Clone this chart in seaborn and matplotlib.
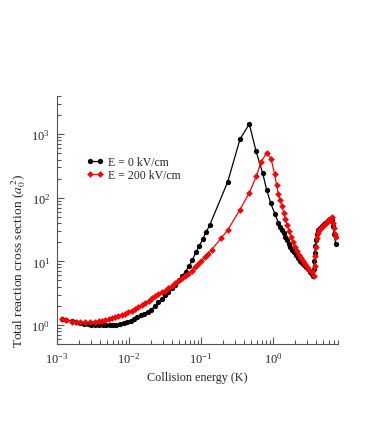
import matplotlib
matplotlib.use("Agg")
import matplotlib.pyplot as plt
import matplotlib.ticker as mticker
import seaborn as sns

# E = 0 kV/cm (black circles)
black_x = [1.16e-3, 1.35e-3, 1.6e-3, 1.85e-3, 2.1e-3, 2.4e-3, 2.7e-3, 3.0e-3, 3.4e-3,
           3.8e-3, 4.3e-3, 4.8e-3, 5.4e-3, 6.0e-3, 6.7e-3, 7.5e-3, 8.4e-3, 9.4e-3,
           1.05e-2, 1.17e-2, 1.31e-2, 1.46e-2, 1.63e-2, 1.82e-2, 2.03e-2, 2.27e-2,
           2.53e-2, 2.83e-2, 3.16e-2, 3.53e-2, 3.94e-2, 4.4e-2, 4.9e-2, 5.5e-2,
           6.1e-2, 6.8e-2, 7.6e-2, 8.5e-2, 9.5e-2, 0.106, 0.118, 0.132,
           0.235, 0.348, 0.469, 0.581, 0.72, 0.818, 0.929, 1.07, 1.19,
           1.26, 1.33, 1.40, 1.48, 1.56, 1.65, 1.74, 1.84, 1.95, 2.07, 2.20,
           2.35, 2.50, 2.67, 2.85, 3.05, 3.25, 3.45, 3.62,
           3.68, 3.74, 3.80, 3.87, 3.95, 4.05, 4.2, 4.45, 4.75, 5.05, 5.35,
           5.65, 5.95, 6.25, 6.55, 6.8, 7.1, 7.4]
black_y = [1.24, 1.20, 1.15, 1.10, 1.07, 1.04, 1.02, 1.01, 1.00,
           0.99, 0.99, 0.99, 0.99, 1.00, 1.01, 1.03, 1.06, 1.10,
           1.16, 1.24, 1.33, 1.42, 1.50, 1.60, 1.72, 1.95,
           2.25, 2.55, 2.90, 3.30, 3.75, 4.3, 5.0, 5.9,
           6.9, 8.3, 10.5, 14.0, 17.5, 22.5, 29.0, 37.0,
           178, 834, 1450, 545, 243, 133, 82, 55, 40,
           35, 31, 27.5, 24.5, 21.5, 19.0, 17.0, 15.2, 13.8, 12.5, 11.3,
           10.3, 9.5, 8.8, 8.1, 7.5, 6.9, 6.3, 5.9,
           7.5, 10.0, 13.5, 17.5, 22.0, 27.0, 31.0, 34.0, 36.5, 38.0, 39.5,
           42.0, 45.0, 47.0, 44.0, 36.0, 27.0, 19.0]

# E = 200 kV/cm (red diamonds)
red_x = [1.18e-3, 1.35e-3, 1.6e-3, 1.85e-3, 2.1e-3, 2.45e-3, 2.9e-3, 3.4e-3, 3.8e-3,
         4.2e-3, 4.7e-3, 5.2e-3, 5.8e-3, 6.4e-3, 7.1e-3, 7.9e-3, 8.8e-3, 9.8e-3,
         1.09e-2, 1.2e-2, 1.35e-2, 1.5e-2, 1.68e-2, 1.87e-2, 2.06e-2, 2.3e-2,
         2.55e-2, 2.84e-2, 3.16e-2, 3.5e-2, 3.9e-2, 4.35e-2, 4.8e-2, 5.4e-2,
         6.0e-2, 6.7e-2, 7.4e-2, 8.2e-2, 9.1e-2, 0.101, 0.113, 0.126, 0.14,
         0.19, 0.235, 0.348, 0.469, 0.59, 0.681, 0.818, 0.94, 1.05,
         1.12, 1.19, 1.26, 1.33, 1.41, 1.49, 1.58, 1.68, 1.78, 1.89, 2.01,
         2.14, 2.28, 2.43, 2.60, 2.78, 2.98, 3.2, 3.45, 3.72,
         3.8, 3.88, 3.97, 4.07, 4.2, 4.4, 4.7, 5.0, 5.3, 5.6, 5.9, 6.2, 6.5,
         6.8, 7.0, 7.2, 7.4]
red_y = [1.24, 1.18, 1.13, 1.11, 1.10, 1.10, 1.10, 1.12, 1.14,
         1.17, 1.20, 1.24, 1.28, 1.32, 1.38, 1.44, 1.51, 1.59,
         1.68, 1.78, 1.90, 2.02, 2.20, 2.40, 2.65, 2.88,
         3.07, 3.25, 3.45, 3.75, 4.14, 4.55, 4.97, 5.4,
         5.8, 6.4, 7.1, 8.0, 9.1, 10.2, 11.5, 13.2, 15.2,
         23.0, 31.0, 65.0, 120, 221, 362, 514, 410, 240,
         160, 115, 92, 74, 58, 46, 37, 30, 24.5, 20.0, 16.8,
         14.3, 12.5, 11.2, 10.0, 9.0, 8.2, 7.4, 6.7, 5.95,
         8.5, 12.0, 17.0, 23.0, 28.0, 31.5, 34.0, 36.0, 38.5, 41.0, 44.0, 47.0, 49.0,
         40.0, 33.0, 27.0, 24.0]

labels = ["E = 0 kV/cm", "E = 200 kV/cm"]

sns.set_style("ticks")
plt.rcParams["font.family"] = ["Liberation Serif", "DejaVu Serif"]
plt.rcParams["mathtext.fontset"] = "stix"

fig = plt.figure(figsize=(3.89, 4.27), dpi=100)
ax = fig.add_axes([57 / 389, 1 - 345 / 427, (338 - 57) / 389, (345 - 97) / 427])

sns.lineplot(x=black_x, y=black_y, ax=ax, color="black", marker="o",
             markersize=3.8, markeredgewidth=0, linewidth=0.9,
             estimator=None, sort=False, label=labels[0])
sns.lineplot(x=red_x, y=red_y, ax=ax, color="red", marker="D",
             markersize=3.4, markeredgewidth=0, linewidth=0.9,
             estimator=None, sort=False, label=labels[1])

ax.set_xscale("log")
ax.set_yscale("log")
ax.set_xlim(1e-3, 8)
ax.set_ylim(0.5, 4000)

ax.xaxis.set_major_locator(mticker.LogLocator(base=10, numticks=10))
ax.xaxis.set_minor_locator(mticker.LogLocator(base=10, subs=range(2, 10), numticks=20))
ax.yaxis.set_major_locator(mticker.LogLocator(base=10, numticks=10))
ax.yaxis.set_minor_locator(mticker.LogLocator(base=10, subs=range(2, 10), numticks=20))
ax.xaxis.set_minor_formatter(mticker.NullFormatter())
ax.yaxis.set_minor_formatter(mticker.NullFormatter())

sns.despine(ax=ax)
for side in ["left", "bottom"]:
    ax.spines[side].set_linewidth(0.8)
    ax.spines[side].set_color("#555555")
ax.tick_params(which="major", direction="in", length=5, width=0.8,
               color="#555555", labelsize=9, pad=5)
ax.tick_params(which="minor", direction="in", length=3, width=0.8,
               color="#555555")

ax.set_xlabel("Collision energy (K)", fontsize=8.7, labelpad=4)
ax.set_ylabel(r"Total reaction cross section ($a_0^{\,2}$)", fontsize=9.6)
ax.yaxis.set_label_coords(-0.103, 0.34)

ax.legend(handles=ax.lines[:2], labels=labels, loc="upper left",
          bbox_to_anchor=(86 / 389, 1 - 157 / 427), bbox_transform=fig.transFigure,
          frameon=False, fontsize=8.5, numpoints=2, handlelength=1.5,
          handletextpad=0.35, labelspacing=0.1, borderpad=0, borderaxespad=0)

fig.savefig("out.png", dpi=100)
